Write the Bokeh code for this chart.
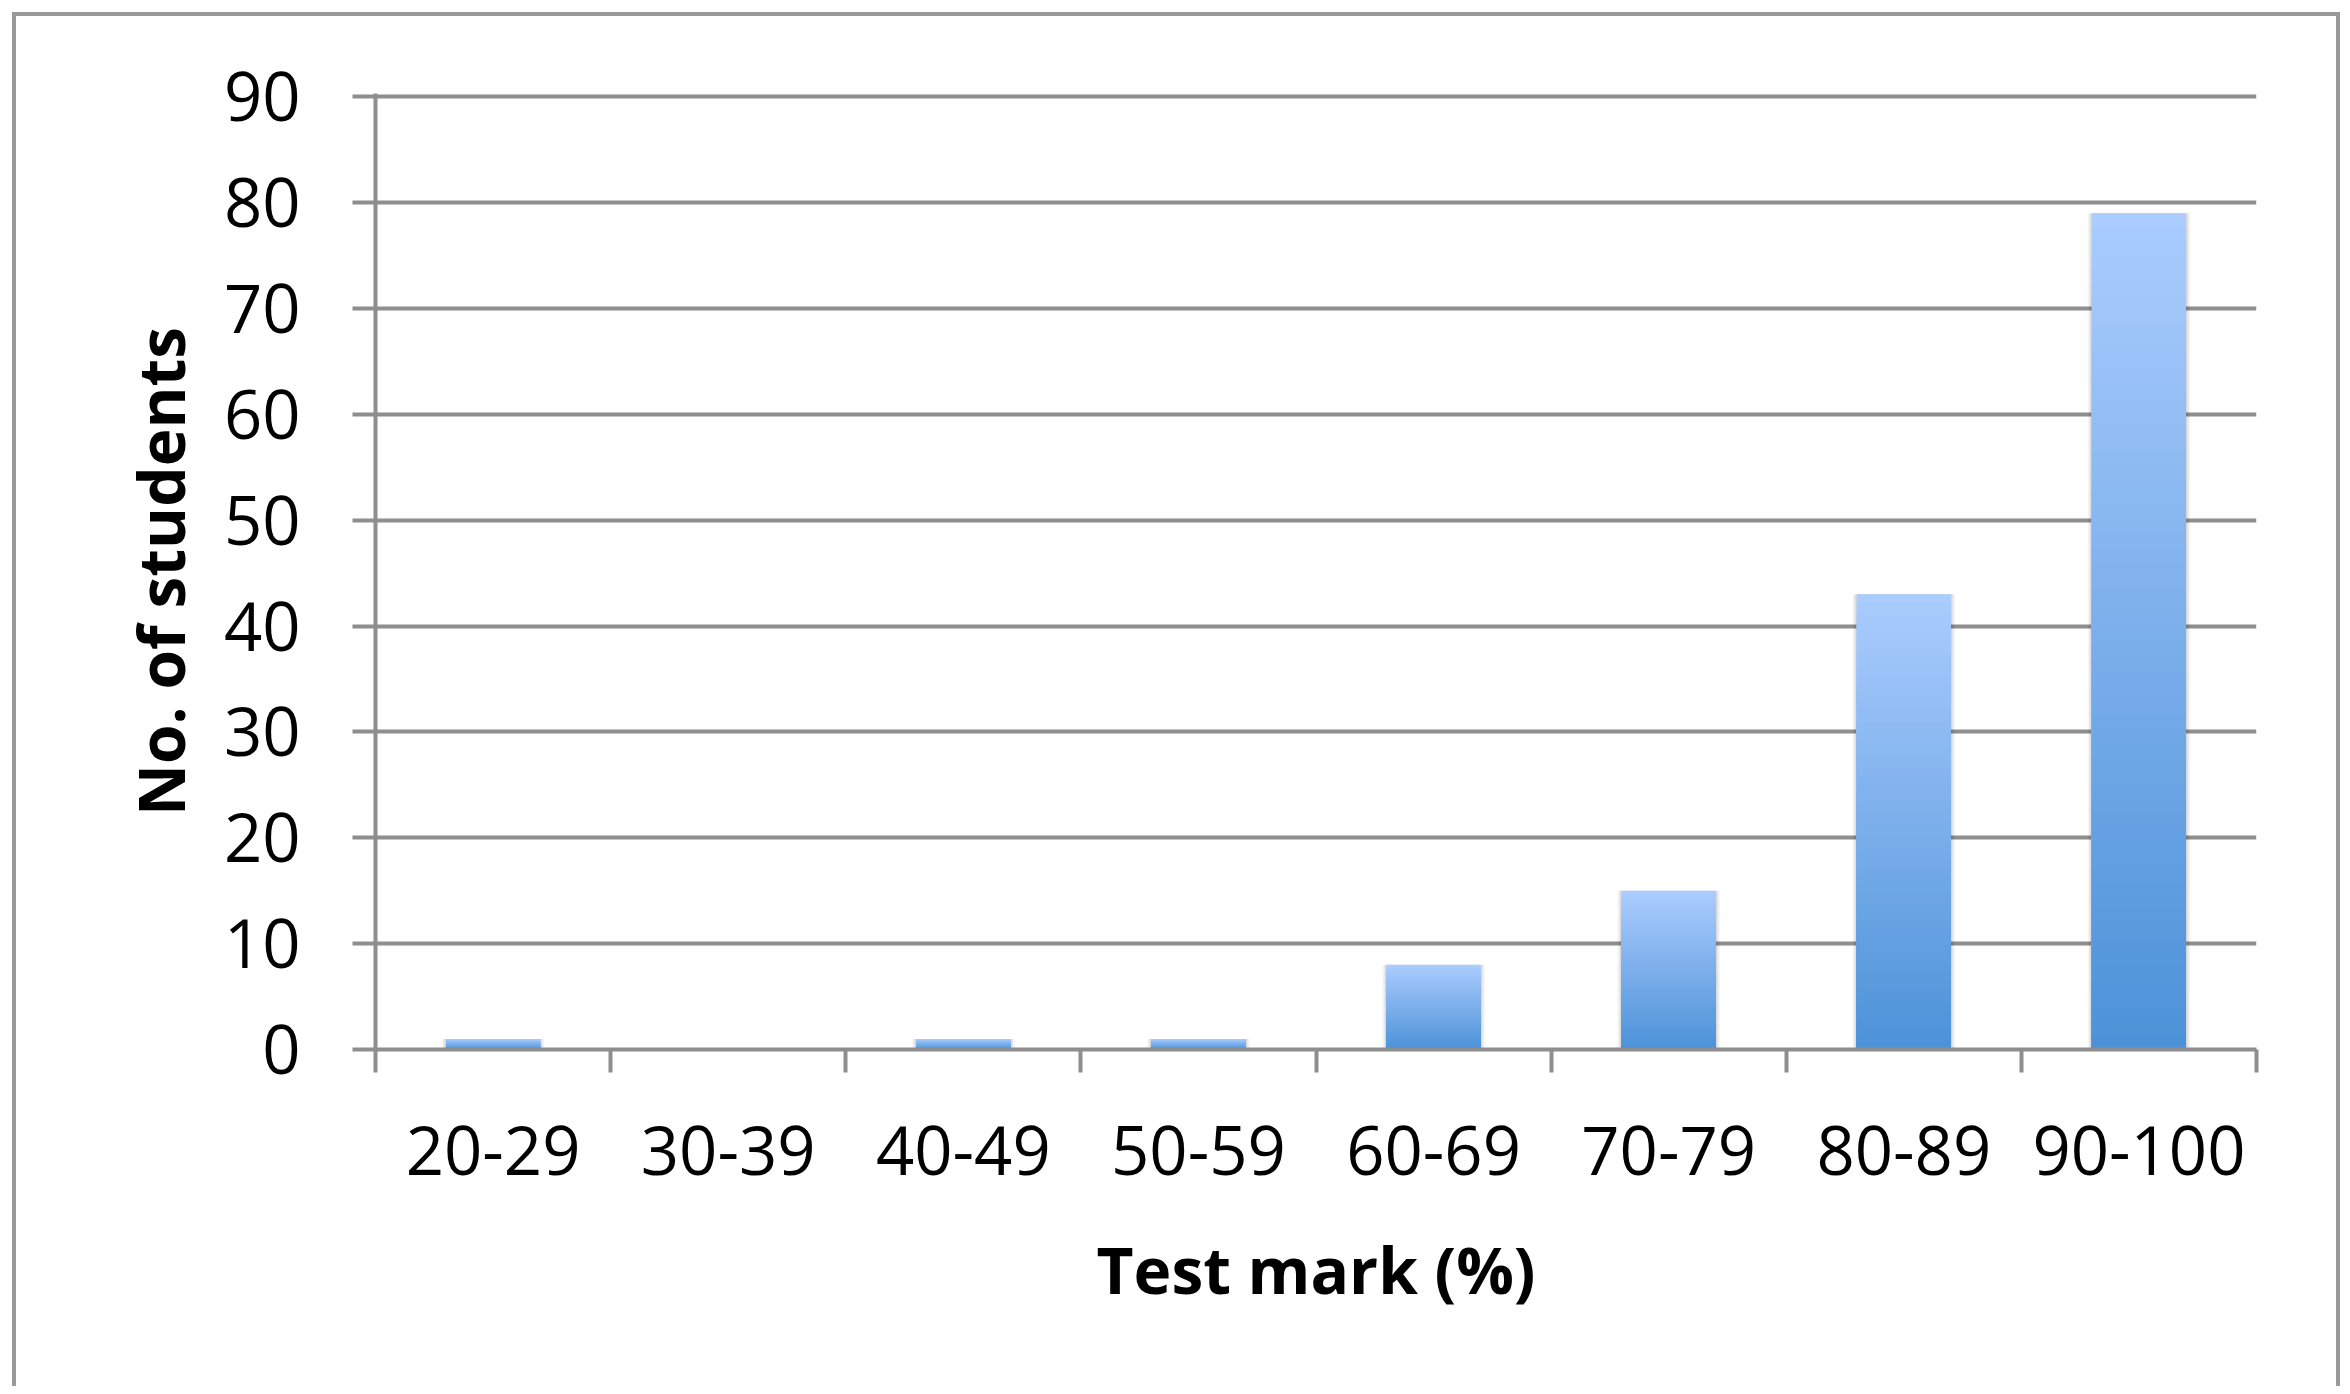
from bokeh.plotting import figure
from bokeh.models import Range1d, FixedTicker
from bokeh.embed import file_html
from bokeh.resources import INLINE

# ---- data ----
categories = ["20-29", "30-39", "40-49", "50-59", "60-69", "70-79", "80-89", "90-100"]
students = [1, 0, 1, 1, 8, 15, 43, 79]
y_ticks = [0, 10, 20, 30, 40, 50, 60, 70, 80, 90]
x_title = "Test mark (%)"
y_title = "No. of students"

FONT = "Open Sans"
GRID = "#8e8e8e"
FRAME = "#9a9a9a"
TOP_C = (0xAA, 0xCC, 0xFE)
BOT_C = (0x4D, 0x92, 0xD8)
BAR_W = 0.4
N_STEPS = 60

p = figure(width=2342, height=1386, output_backend="svg", toolbar_location=None,
           x_range=Range1d(0, len(categories)), y_range=Range1d(0, 90.3),
           min_border_left=375, min_border_right=86, min_border_top=93, min_border_bottom=337)
p.styles = {
    "background-color": "white",
    "box-shadow": ("inset 12px 12px 0 0 white, inset -2px 0 0 0 white, "
                   "inset 16px 16px 0 0 %s, inset -6px 0 0 0 %s" % (FRAME, FRAME)),
}
p.outline_line_color = None
p.background_fill_color = "white"
p.border_fill_alpha = 0

centers = [i + 0.5 for i in range(len(categories))]

# soft shadow
for k, a in [(3, 0.04), (2, 0.05), (1, 0.07)]:
    d = k * 0.006
    p.quad(left=[c - BAR_W / 2 - d for c in centers], right=[c + BAR_W / 2 + d for c in centers],
           bottom=[0] * len(centers), top=[v for v in students],
           fill_color="black", fill_alpha=a, line_color=None)

# gradient bars: nested quads from tallest (light) to shortest (dark)
for k in range(N_STEPS - 1, -1, -1):
    t = k / (N_STEPS - 1)
    col = "#%02x%02x%02x" % tuple(int(round(b + (a - b) * t)) for a, b in zip(TOP_C, BOT_C))
    tops = [v * (k + 1) / N_STEPS for v in students]
    p.quad(left=[c - BAR_W / 2 for c in centers], right=[c + BAR_W / 2 for c in centers],
           bottom=[0] * len(centers), top=tops, fill_color=col, line_color=None)

# grid
p.xgrid.visible = False
p.ygrid.ticker = FixedTicker(ticks=y_ticks)
p.ygrid.grid_line_color = GRID
p.ygrid.grid_line_width = 4

# x axis
xa = p.xaxis[0]
xa.ticker = FixedTicker(ticks=centers, minor_ticks=list(range(len(categories) + 1)))
xa.major_label_overrides = {c: lab for c, lab in zip(centers, categories)}
xa.major_tick_out = 0
xa.major_tick_in = 0
xa.minor_tick_out = 23
xa.minor_tick_in = 0
xa.minor_tick_line_color = GRID
xa.minor_tick_line_width = 4
xa.axis_line_color = GRID
xa.axis_line_width = 4
xa.major_label_text_font = FONT
xa.major_label_text_font_size = "67px"
xa.major_label_text_color = "black"
xa.major_label_standoff = 53
xa.axis_label = x_title
xa.axis_label_text_font = FONT
xa.axis_label_text_font_size = "64px"
xa.axis_label_text_font_style = "bold"
xa.axis_label_text_color = "black"
xa.axis_label_standoff = 48

# y axis
ya = p.yaxis[0]
ya.ticker = FixedTicker(ticks=y_ticks)
ya.major_tick_out = 23
ya.major_tick_in = 0
ya.major_tick_line_color = GRID
ya.major_tick_line_width = 4
ya.minor_tick_line_color = None
ya.axis_line_color = GRID
ya.axis_line_width = 4
ya.major_label_text_font = FONT
ya.major_label_text_font_size = "67px"
ya.major_label_text_color = "black"
ya.major_label_standoff = 52
ya.axis_label = y_title
ya.axis_label_text_font = FONT
ya.axis_label_text_font_size = "64px"
ya.axis_label_text_font_style = "bold"
ya.axis_label_text_color = "black"
ya.axis_label_standoff = 17

open("out.html", "w").write(file_html(p, INLINE))
